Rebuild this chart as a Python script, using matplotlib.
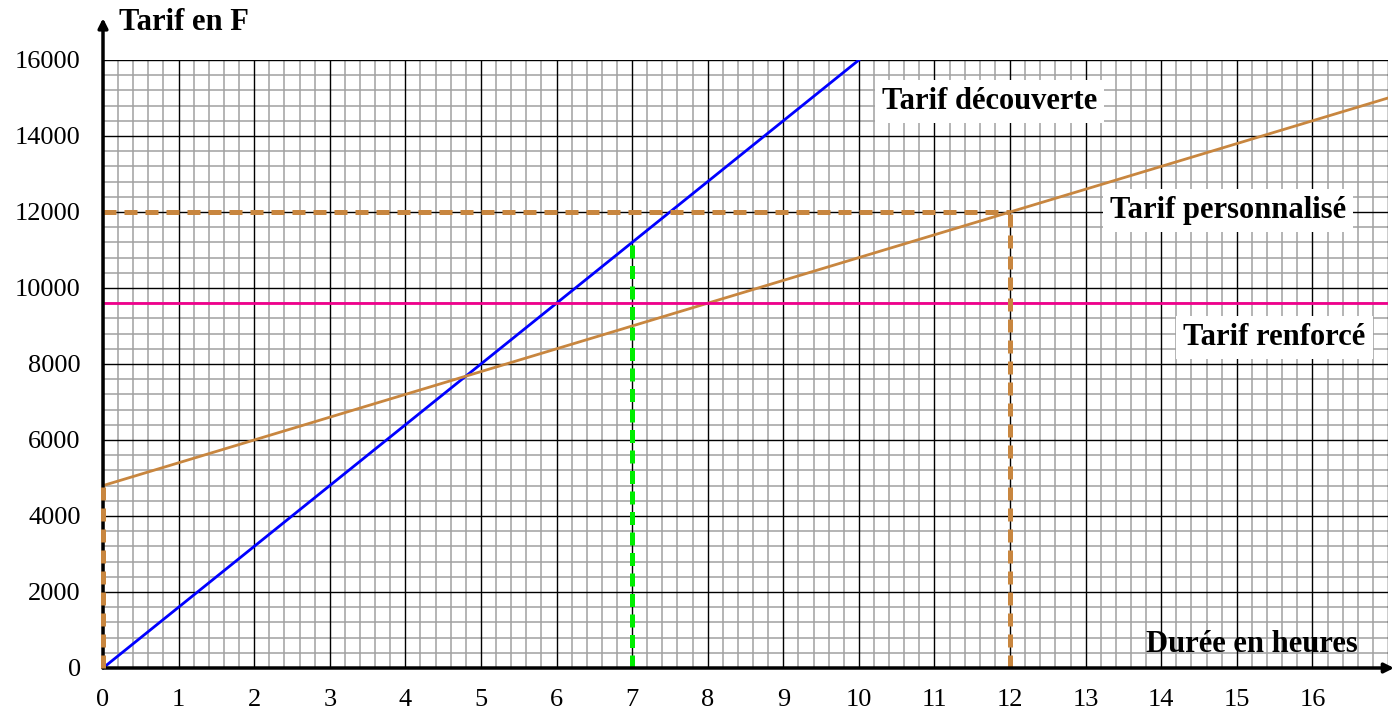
import matplotlib
matplotlib.use("Agg")
import matplotlib.pyplot as plt
import numpy as np

# Data
hours_x_ticks = list(range(0, 17))
cost_y_ticks = list(range(0, 16001, 2000))

decouverte_x = [0, 10]
decouverte_y = [0, 16000]
perso_x = [0, 17]
perso_y = [4800, 15000]
renforce_x = [0, 17]
renforce_y = [9600, 9600]

green_x = [7, 7]
green_y = [0, 11200]
brown_h_x = [0, 12]
brown_h_y = [12000, 12000]
brown_v12_x = [12, 12]
brown_v12_y = [0, 12000]
brown_v0_x = [0, 0]
brown_v0_y = [0, 4800]

labels = ["Tarif découverte", "Tarif personnalisé", "Tarif renforcé"]
label_pos = [(11.73, 14900), (14.88, 12050), (15.5, 8700)]

BROWN = "#C8863F"
PINK = "#F0008C"
BLUE = "#0000FF"
GREEN = "#00EE00"

plt.rcParams['font.family'] = ['Liberation Serif', 'DejaVu Serif']

fig = plt.figure(figsize=(13.97, 7.2), dpi=100)
ax = fig.add_axes([103/1397, 52/720, (1388-103)/1397, (668-60)/720])
ax.set_xlim(0, 17)
ax.set_ylim(0, 16000)
for s in ax.spines.values():
    s.set_visible(False)

# grid
for xv in np.arange(0, 17.001, 0.2):
    major = abs(xv - round(xv)) < 1e-6
    ax.plot([xv, xv], [0, 16000], color="black" if major else "#a0a0a0",
            lw=1.0 if major else 1.1, zorder=2 if major else 1)
for yv in np.arange(0, 16000.1, 400):
    major = abs(yv / 2000 - round(yv / 2000)) < 1e-6
    ax.plot([0, 17], [yv, yv], color="black" if major else "#a0a0a0",
            lw=1.0 if major else 1.1, zorder=2 if major else 1)

# axes with arrows
ax.annotate("", xy=(17.08, 0), xytext=(0, 0),
            arrowprops=dict(arrowstyle="-|>", lw=2.5, color="black",
                            mutation_scale=14, shrinkA=0, shrinkB=0),
            annotation_clip=False, zorder=5)
ax.annotate("", xy=(0, 17100), xytext=(0, 0),
            arrowprops=dict(arrowstyle="-|>", lw=2.5, color="black",
                            mutation_scale=14, shrinkA=0, shrinkB=0),
            annotation_clip=False, zorder=5)

# lines
ax.plot(decouverte_x, decouverte_y, color=BLUE, lw=2, zorder=4)
ax.plot(perso_x, perso_y, color=BROWN, lw=2, zorder=4)
ax.plot(renforce_x, renforce_y, color=PINK, lw=2, zorder=4)

dash_b = (2.6, 1.6)
ax.plot(brown_h_x, brown_h_y, color=BROWN, lw=3.6, ls=(0, dash_b), zorder=4)
ax.plot(brown_v12_x, brown_v12_y, color=BROWN, lw=3.6, ls=(0, dash_b), zorder=4)
ax.plot(brown_v0_x, brown_v0_y, color=BROWN, lw=3.6, ls=(0, dash_b), zorder=6,
        clip_on=False)
ax.plot(green_x, green_y, color=GREEN, lw=3.6, ls=(0, (2.6, 1.5)), zorder=4)

# ticks
ax.set_xticks(hours_x_ticks)
ax.set_xticklabels([str(v) for v in hours_x_ticks])
ax.set_yticks(cost_y_ticks)
ax.set_yticklabels([str(v) for v in cost_y_ticks])
ax.tick_params(axis="both", length=0, labelsize=19)
ax.tick_params(axis="x", pad=15)
ax.tick_params(axis="y", pad=16)

# labels
for txt, (lx, ly) in zip(labels, label_pos):
    ax.text(lx, ly, txt, fontsize=22, fontweight="bold", ha="center", va="center",
            zorder=7, bbox=dict(facecolor="white", edgecolor="none", pad=5))
ax.text(15.2, 620, "Durée en heures", fontsize=22, fontweight="bold",
        ha="center", va="center", zorder=7)
ax.text(1.07, 17000, "Tarif en F", fontsize=22, fontweight="bold",
        ha="center", va="center", zorder=7, clip_on=False)

fig.savefig("out.png", dpi=100)
